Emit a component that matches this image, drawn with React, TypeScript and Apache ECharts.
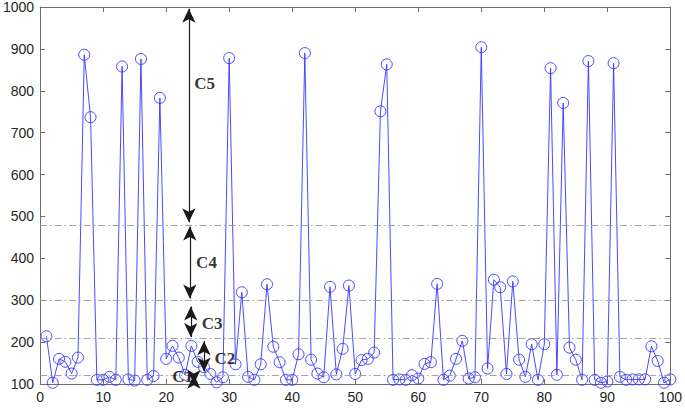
import React, { useEffect, useRef } from "react";
import * as echarts from "echarts";

const sampleIndex = Array.from({ length: 100 }, (_, i) => i + 1);
const sampleValues = [
  214, 103, 160, 153, 125, 163, 886, 737, 110, 110,
  117, 110, 858, 111, 108, 876, 110, 119, 783, 160,
  191, 163, 122, 191, 153, 140, 124, 104, 116, 878,
  147, 319, 117, 110, 147, 338, 189, 152, 110, 110,
  171, 890, 158, 125, 116, 332, 123, 184, 335, 124,
  157, 160, 175, 751, 863, 110, 111, 110, 121, 113,
  148, 152, 339, 110, 120, 160, 203, 113, 116, 904,
  137, 349, 331, 124, 345, 158, 117, 195, 110, 195,
  854, 122, 771, 187, 158, 110, 871, 110, 103, 106,
  866, 117, 110, 111, 111, 111, 190, 155, 103, 111,
];
const thresholdLevels = [120, 210, 300, 480];
const classLabels = ["C1", "C2", "C3", "C4", "C5"];
const arrowX = [24.4, 26.0, 23.9, 23.75, 23.6];
const arrowFrom = [100, 130, 212, 304, 486];
const arrowTo = [122, 202, 285, 476, 996];
const labelX = [22.6, 29.3, 27.3, 26.4, 26.1];
const labelY = [119, 160, 245, 390, 817];

export default function App() {
  const ref = useRef<HTMLDivElement>(null);
  useEffect(() => {
    if (!ref.current) return;
    const chart = echarts.init(ref.current, undefined, { renderer: "svg" });
    const axisColor = "#6e6e6e";
    const labelStyle = { color: "#262626", fontSize: 14, fontFamily: "Liberation Sans, Arial, sans-serif" };
    const fmt = (v: number) => String(v);
    const common = {
      axisLine: { show: true, onZero: false, lineStyle: { color: axisColor, width: 1 } },
      axisTick: { show: true, inside: true, length: 5, lineStyle: { color: axisColor } },
      splitLine: { show: false },
    };
    chart.setOption({
      animation: false,
      backgroundColor: "#ffffff",
      grid: { left: 40, right: 14, top: 6, bottom: 24 },
      xAxis: [
        { type: "value", min: 0, max: 100, interval: 10, position: "bottom", ...common,
          axisLabel: { ...labelStyle, margin: 6, formatter: fmt } },
        { type: "value", min: 0, max: 100, interval: 10, position: "top", ...common,
          axisLabel: { show: false } },
      ],
      yAxis: [
        { type: "value", min: 100, max: 1000, interval: 100, position: "left", ...common,
          axisLabel: { ...labelStyle, margin: 6, formatter: fmt } },
        { type: "value", min: 100, max: 1000, interval: 100, position: "right", ...common,
          axisLabel: { show: false } },
      ],
      series: [
        {
          type: "line",
          name: "thresholds",
          data: [],
          silent: true,
          markLine: {
            silent: true,
            symbol: "none",
            label: { show: false },
            lineStyle: { color: "#9a9a9a", width: 0.9, type: [7, 3, 1.5, 3] },
            data: thresholdLevels.map((v) => ({ yAxis: v })),
          },
        },
        {
          type: "line",
          name: "samples",
          data: sampleIndex.map((x, i) => [x, sampleValues[i]]),
          symbol: "circle",
          symbolSize: 11,
          showAllSymbol: true,
          lineStyle: { color: "#3535ff", width: 0.9 },
          itemStyle: { color: "rgba(0,0,0,0)", borderColor: "#3535ff", borderWidth: 0.9 },
          z: 3,
        },
        {
          type: "line",
          name: "arrows",
          data: [],
          silent: true,
          z: 5,
          markLine: {
            silent: true,
            symbol: ["arrow", "arrow"],
            symbolSize: [10, 14],
            label: { show: false },
            lineStyle: { color: "#1a1a1a", width: 1.2, type: "solid" },
            data: classLabels.map((_, i) => [
              { coord: [arrowX[i], arrowFrom[i]] },
              { coord: [arrowX[i], arrowTo[i]] },
            ]),
          },
        },
        {
          type: "scatter",
          name: "labels",
          data: classLabels.map((c, i) => ({ value: [labelX[i], labelY[i]], name: c })),
          symbolSize: 0,
          silent: true,
          z: 6,
          label: {
            show: true,
            position: "inside",
            formatter: (p: any) => p.name,
            color: "#000000",
            fontSize: 17,
            fontWeight: "bold",
            fontFamily: "Liberation Serif, Times New Roman, serif",
          },
        },
      ],
    });
    return () => chart.dispose();
  }, []);
  return (
    <div
      ref={ref}
      style={{ position: "fixed", left: 0, top: 0, width: 685, height: 408, background: "#fff" }}
    />
  );
}
